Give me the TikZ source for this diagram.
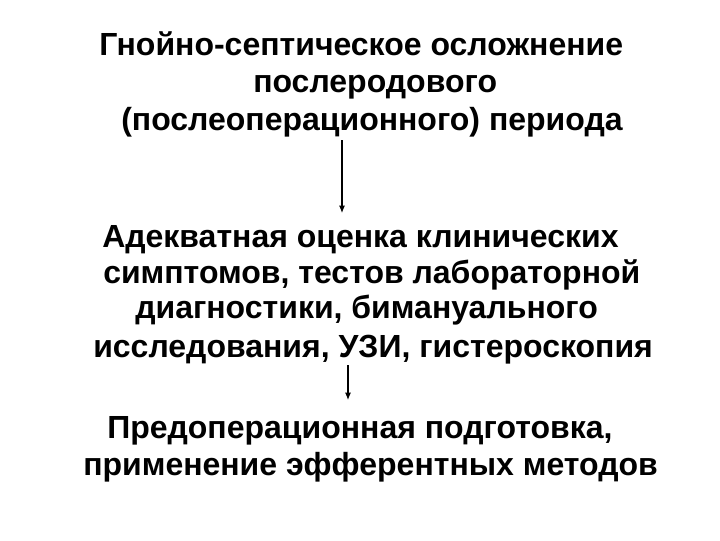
\documentclass[tikz,border=0pt]{standalone}
\usepackage{fontspec}
\setmainfont{Liberation Sans}
\usetikzlibrary{arrows.meta}
\begin{document}
\begin{tikzpicture}[x=0.75pt,y=-0.75pt,
  ln/.style={anchor=base west,inner sep=0pt,font=\fontsize{24}{28}\selectfont\bfseries},
  arr/.style={line width=0.8pt,-{Latex[length=5.5pt,width=4.5pt]}}]
\useasboundingbox (0,0) rectangle (720,540);
\node[ln] (a1) at (99,55) {Гнойно-септическое осложнение};
\node[ln] (a2) at (253,92) {послеродового};
\node[ln] (a3) at (121,130) {(послеоперационного) периода};
\node[ln] (b1) at (102,247) {Адекватная оценка клинических};
\node[ln] (b2) at (103,283) {симптомов, тестов лабораторной};
\node[ln] (b3) at (135,318) {диагностики, бимануального};
\node[ln] (b4) at (93,357) {исследования, УЗИ, гистероскопия};
\node[ln] (c1) at (107,438) {Предоперационная подготовка,};
\node[ln] (c2) at (83,475) {применение эфферентных методов};
\coordinate (s1) at (342,140);
\coordinate (e1) at (342,213);
\coordinate (s2) at (348,365);
\coordinate (e2) at (348,400);
\draw[arr] (s1) -- (e1);
\draw[arr] (s2) -- (e2);
\end{tikzpicture}
\end{document}
